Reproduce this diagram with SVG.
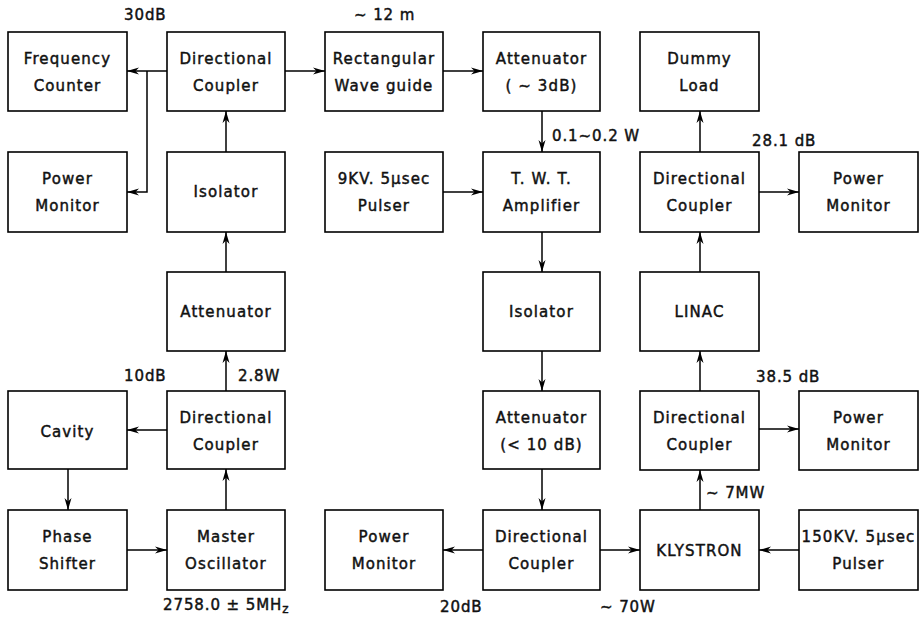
<svg xmlns="http://www.w3.org/2000/svg" width="919" height="618" viewBox="0 0 919 618">
<style>
.b{fill:#fff;stroke:#000;stroke-width:1.6}
.t{font-family:"DejaVu Sans","Liberation Sans",sans-serif;font-size:15px;letter-spacing:1.1px;fill:#111;stroke:#111;stroke-width:0.45;text-anchor:middle}
.l{font-family:"DejaVu Sans","Liberation Sans",sans-serif;font-size:15px;letter-spacing:0.9px;fill:#111;stroke:#111;stroke-width:0.45}
.c{fill:none;stroke:#000;stroke-width:1.5}
</style>
<defs>
<marker id="a" markerUnits="userSpaceOnUse" markerWidth="13" markerHeight="9" refX="12" refY="4.5" orient="auto">
<path d="M0,1 L12,4.5 L0,8 L3.5,4.5 z" fill="#000"/>
</marker>
</defs>
<rect width="919" height="618" fill="#fff"/>
<g id="freq-counter"><rect class="b" x="8" y="32" width="119" height="79"/><text class="t" x="67.5" y="64">Frequency</text><text class="t" x="67.5" y="91">Counter</text></g>
<g id="dc1"><rect class="b" x="167" y="32" width="118" height="79"/><text class="t" x="226" y="64">Directional</text><text class="t" x="226" y="91">Coupler</text></g>
<g id="rect-wg"><rect class="b" x="325" y="32" width="118" height="79"/><text class="t" x="384" y="64">Rectangular</text><text class="t" x="384" y="91">Wave guide</text></g>
<g id="att3"><rect class="b" x="483" y="32" width="117" height="79"/><text class="t" x="541.5" y="64">Attenuator</text><text class="t" x="541.5" y="91">( ~ 3dB)</text></g>
<g id="dummy"><rect class="b" x="640" y="32" width="119" height="79"/><text class="t" x="699.5" y="64">Dummy</text><text class="t" x="699.5" y="91">Load</text></g>

<g id="pm1"><rect class="b" x="8" y="152" width="119" height="80"/><text class="t" x="67.5" y="184">Power</text><text class="t" x="67.5" y="211">Monitor</text></g>
<g id="iso1"><rect class="b" x="167" y="152" width="118" height="80"/><text class="t" x="226" y="197">Isolator</text></g>
<g id="pulser9"><rect class="b" x="325" y="152" width="118" height="80"/><text class="t" x="384" y="184">9KV. 5μsec</text><text class="t" x="384" y="211">Pulser</text></g>
<g id="twt"><rect class="b" x="483" y="152" width="117" height="80"/><text class="t" x="541.5" y="184">T. W. T.</text><text class="t" x="541.5" y="211">Amplifier</text></g>
<g id="dc2"><rect class="b" x="640" y="152" width="119" height="80"/><text class="t" x="699.5" y="184">Directional</text><text class="t" x="699.5" y="211">Coupler</text></g>
<g id="pm2"><rect class="b" x="799" y="152" width="119" height="80"/><text class="t" x="858.5" y="184">Power</text><text class="t" x="858.5" y="211">Monitor</text></g>

<g id="att1"><rect class="b" x="167" y="272" width="118" height="79"/><text class="t" x="226" y="317">Attenuator</text></g>
<g id="iso2"><rect class="b" x="483" y="272" width="117" height="79"/><text class="t" x="541.5" y="317">Isolator</text></g>
<g id="linac"><rect class="b" x="640" y="272" width="119" height="79"/><text class="t" x="699.5" y="317">LINAC</text></g>

<g id="cavity"><rect class="b" x="8" y="391" width="119" height="78"/><text class="t" x="67.5" y="437">Cavity</text></g>
<g id="dc3"><rect class="b" x="167" y="391" width="118" height="78"/><text class="t" x="226" y="423">Directional</text><text class="t" x="226" y="450">Coupler</text></g>
<g id="att10"><rect class="b" x="483" y="391" width="117" height="78"/><text class="t" x="541.5" y="423">Attenuator</text><text class="t" x="541.5" y="450">(&lt; 10 dB)</text></g>
<g id="dc4"><rect class="b" x="640" y="391" width="119" height="79"/><text class="t" x="699.5" y="423">Directional</text><text class="t" x="699.5" y="450">Coupler</text></g>
<g id="pm4"><rect class="b" x="799" y="391" width="119" height="79"/><text class="t" x="858.5" y="423">Power</text><text class="t" x="858.5" y="450">Monitor</text></g>

<g id="phase"><rect class="b" x="8" y="510" width="119" height="80"/><text class="t" x="67.5" y="542">Phase</text><text class="t" x="67.5" y="569">Shifter</text></g>
<g id="mo"><rect class="b" x="167" y="510" width="118" height="80"/><text class="t" x="226" y="542">Master</text><text class="t" x="226" y="569">Oscillator</text></g>
<g id="pm5"><rect class="b" x="325" y="510" width="118" height="80"/><text class="t" x="384" y="542">Power</text><text class="t" x="384" y="569">Monitor</text></g>
<g id="dc5"><rect class="b" x="483" y="510" width="117" height="80"/><text class="t" x="541.5" y="542">Directional</text><text class="t" x="541.5" y="569">Coupler</text></g>
<g id="klystron"><rect class="b" x="640" y="510" width="119" height="80"/><text class="t" x="699.5" y="556">KLYSTRON</text></g>
<g id="pulser150"><rect class="b" x="799" y="510" width="119" height="80"/><text class="t" x="858.5" y="542" letter-spacing="0.2">150KV. 5μsec</text><text class="t" x="858.5" y="569">Pulser</text></g>

<g id="connectors">
<path class="c" d="M167,71 L127,71" marker-end="url(#a)"/>
<path class="c" d="M147,71 L147,192 L127,192" marker-end="url(#a)"/>
<path class="c" d="M285,71 L325,71" marker-end="url(#a)"/>
<path class="c" d="M443,71 L483,71" marker-end="url(#a)"/>
<path class="c" d="M226,152 L226,111" marker-end="url(#a)"/>
<path class="c" d="M226,272 L226,232" marker-end="url(#a)"/>
<path class="c" d="M226,391 L226,351" marker-end="url(#a)"/>
<path class="c" d="M167,430 L127,430" marker-end="url(#a)"/>
<path class="c" d="M68,469 L68,510" marker-end="url(#a)"/>
<path class="c" d="M127,550 L167,550" marker-end="url(#a)"/>
<path class="c" d="M226,510 L226,469" marker-end="url(#a)"/>
<path class="c" d="M443,192 L483,192" marker-end="url(#a)"/>
<path class="c" d="M542,111 L542,152" marker-end="url(#a)"/>
<path class="c" d="M542,232 L542,272" marker-end="url(#a)"/>
<path class="c" d="M542,351 L542,391" marker-end="url(#a)"/>
<path class="c" d="M542,469 L542,510" marker-end="url(#a)"/>
<path class="c" d="M483,550 L443,550" marker-end="url(#a)"/>
<path class="c" d="M600,550 L640,550" marker-end="url(#a)"/>
<path class="c" d="M799,550 L759,550" marker-end="url(#a)"/>
<path class="c" d="M700,510 L700,470" marker-end="url(#a)"/>
<path class="c" d="M700,391 L700,351" marker-end="url(#a)"/>
<path class="c" d="M759,429 L799,429" marker-end="url(#a)"/>
<path class="c" d="M700,272 L700,232" marker-end="url(#a)"/>
<path class="c" d="M700,152 L700,111" marker-end="url(#a)"/>
<path class="c" d="M759,192 L799,192" marker-end="url(#a)"/>
</g>

<g id="labels">
<text class="l" x="124" y="20">30dB</text>
<text class="l" x="354" y="20">~ 12 m</text>
<text class="l" x="552" y="141">0.1~0.2 W</text>
<text class="l" x="752" y="146">28.1 dB</text>
<text class="l" x="124" y="381">10dB</text>
<text class="l" x="238" y="381">2.8W</text>
<text class="l" x="756" y="382">38.5 dB</text>
<text class="l" x="706" y="498">~ 7MW</text>
<text class="l" x="163" y="610">2758.0 ± 5MH<tspan font-size="12" dy="3">z</tspan></text>
<text class="l" x="440" y="612">20dB</text>
<text class="l" x="600" y="612">~ 70W</text>
</g>
</svg>
